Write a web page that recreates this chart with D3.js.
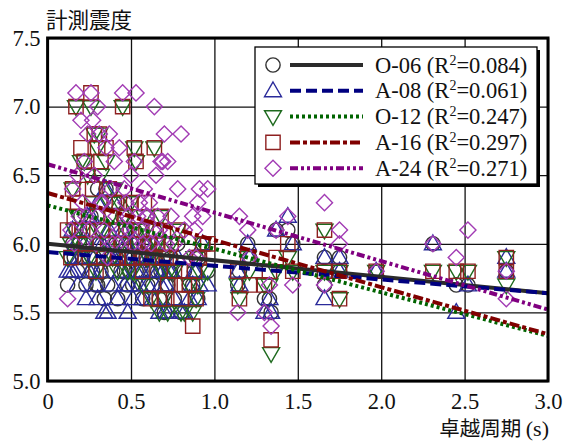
<!DOCTYPE html>
<html lang="ja">
<head>
<meta charset="utf-8">
<title>計測震度 vs 卓越周期</title>
<script src="https://d3js.org/d3.v7.min.js"></script>
<style>
  body { margin: 0; background: #fff; }
  text { font-family: "Liberation Serif", "Times New Roman", serif; }
  .cjk { font-family: "Noto Sans CJK JP", sans-serif; }
</style>
</head>
<body>
<script>
var w = 570;
var h = 441;
var plotL = 47.6, plotR = 548, plotT = 38, plotB = 381;

// dominant period of each record (s)
var periods = [
  0.12, 0.14, 0.15, 0.17, 0.18, 0.20, 0.21, 0.22, 0.23, 0.24,
  0.26, 0.27, 0.28, 0.30, 0.30, 0.31, 0.32, 0.34, 0.35, 0.36,
  0.37, 0.38, 0.40, 0.42, 0.43, 0.45, 0.46, 0.48, 0.50, 0.52,
  0.53, 0.55, 0.57, 0.58, 0.60, 0.62, 0.64, 0.65, 0.67, 0.68,
  0.69, 0.70, 0.72, 0.74, 0.78, 0.80, 0.82, 0.87, 0.88, 0.90,
  0.91, 0.93, 0.96, 1.14, 1.15, 1.20, 1.21, 1.30, 1.33, 1.34,
  1.37, 1.44, 1.47, 1.66, 1.66, 1.75, 1.75, 1.97, 2.31, 2.45,
  2.52, 2.75, 2.75,
  0.16, 0.19, 0.25, 0.29, 0.33, 0.39, 0.41, 0.44, 0.47, 0.49,
  0.51, 0.54, 0.56, 0.59, 0.61, 0.63, 0.66, 0.71, 0.73, 0.76,
  0.85, 0.89
];

// instrumental intensity for each index
var o06 = [
  5.7, 5.9, 6.0, 6.1, 5.8, 6.2, 5.9, 6.0, 5.7, 6.1,
  6.2, 5.8, 5.9, 6.4, 5.7, 6.0, 5.8, 5.6, 6.4, 5.7,
  6.0, 5.9, 6.3, 5.6, 5.9, 6.2, 5.8, 5.7, 6.0, 6.1,
  5.8, 5.9, 5.6, 6.0, 5.7, 5.8, 6.1, 5.9, 5.6, 5.8,
  5.9, 5.5, 5.7, 5.9, 6.0, 5.5, 5.8, 5.7, 5.8, 5.6,
  5.9, 6.0, 5.8, 5.7, 5.8, 6.0, 5.9, 5.6, 5.6, 5.5,
  6.1, 6.1, 6.0, 5.9, 5.7, 5.9, 5.8, 5.8, 6.0, 5.7,
  5.7, 5.8, 5.8,
  5.9, 6.0, 5.9, 5.7, 6.1, 5.8, 6.0, 5.8, 6.0, 5.8,
  5.7, 6.0, 5.8, 5.9, 6.0, 5.7, 5.8, 5.7, 5.8, 5.6,
  5.7, 5.9
];
var a08 = [
  5.8, 5.8, 6.1, 6.0, 5.7, 6.1, 5.9, 6.0, 5.6, 6.2,
  6.2, 5.8, 5.9, 6.3, 5.6, 6.0, 5.8, 5.5, 6.4, 5.5,
  6.1, 5.9, 6.3, 5.6, 5.9, 6.1, 5.7, 5.5, 5.9, 6.0,
  5.8, 5.7, 5.6, 6.0, 5.7, 5.8, 6.0, 5.9, 5.5, 5.7,
  5.8, 5.5, 5.5, 5.8, 5.9, 5.5, 5.5, 5.7, 5.8, 5.6,
  5.7, 6.0, 5.7, 5.8, 5.7, 6.0, 5.9, 5.5, 5.6, 5.5,
  6.1, 6.2, 6.0, 5.9, 5.6, 5.9, 5.8, 5.8, 6.0, 5.5,
  5.7, 5.9, 5.8,
  5.8, 5.9, 5.8, 5.7, 6.0, 5.7, 5.9, 5.8, 6.0, 5.7,
  5.6, 5.9, 5.8, 5.9, 5.9, 5.6, 5.8, 5.7, 5.8, 5.6,
  5.6, 5.8
];
var o12 = [
  5.9, 6.0, 6.4, 7.0, 6.2, 6.6, 6.1, 6.6, 6.0, 6.5,
  7.0, 6.3, 6.8, 6.7, 6.1, 6.8, 6.5, 5.9, 6.6, 6.0,
  6.3, 6.2, 6.4, 5.8, 6.3, 7.0, 6.2, 5.8, 6.3, 6.7,
  6.6, 6.1, 5.7, 6.2, 5.9, 5.6, 6.7, 6.0, 5.5, 6.2,
  5.8, 5.6, 5.5, 6.0, 6.1, 5.5, 5.5, 5.5, 5.9, 5.7,
  5.8, 6.0, 5.8, 5.7, 5.6, 5.9, 5.8, 5.7, 5.7, 5.2,
  5.8, 5.9, 5.8, 6.1, 5.8, 5.6, 5.8, 5.8, 5.8, 5.8,
  5.8, 5.9, 5.7,
  6.1, 6.0, 5.9, 5.8, 6.1, 5.9, 6.1, 6.0, 6.1, 5.9,
  5.8, 6.0, 5.9, 6.1, 6.0, 5.9, 6.0, 5.9, 5.8, 5.8,
  5.7, 5.6
];
var a16 = [
  6.1, 5.9, 6.4, 7.0, 6.3, 6.7, 6.1, 6.6, 6.0, 6.5,
  7.1, 6.4, 6.8, 6.7, 6.2, 6.8, 6.6, 5.9, 6.7, 6.0,
  6.4, 6.2, 6.3, 5.9, 6.3, 7.0, 6.2, 5.9, 6.3, 6.7,
  6.6, 6.1, 5.8, 6.3, 6.0, 5.6, 6.7, 6.1, 5.6, 6.2,
  5.9, 5.6, 5.7, 6.0, 6.1, 5.6, 5.7, 5.4, 5.8, 5.9,
  5.9, 6.0, 6.0, 5.8, 5.6, 5.9, 5.7, 5.7, 5.8, 5.3,
  5.9, 6.0, 5.8, 6.1, 5.8, 5.6, 5.8, 5.8, 5.8, 5.8,
  5.8, 5.9, 5.8,
  6.2, 6.1, 5.9, 5.8, 6.1, 5.9, 6.1, 6.0, 6.1, 5.9,
  5.9, 6.0, 5.9, 6.1, 6.0, 5.9, 6.0, 5.9, 5.9, 5.8,
  5.7, 5.6
];
var a24 = [
  5.6, 6.1, 6.4, 7.1, 6.5, 6.9, 6.3, 6.6, 6.2, 6.8,
  7.1, 6.9, 6.5, 7.0, 6.2, 6.8, 6.3, 6.1, 6.7, 5.9,
  6.8, 6.4, 6.6, 6.0, 6.7, 7.1, 6.4, 6.2, 6.5, 6.6,
  7.1, 6.3, 6.0, 6.4, 6.2, 6.0, 7.0, 6.5, 6.1, 6.6,
  6.6, 6.8, 6.6, 6.2, 6.4, 6.8, 6.1, 6.2, 6.1, 6.3,
  6.4, 6.2, 6.4, 5.5, 6.2, 6.1, 5.9, 5.5, 5.7, 5.4,
  6.1, 6.2, 5.7, 6.3, 5.7, 6.1, 6.0, 5.8, 6.0, 5.9,
  6.1, 5.8, 5.6,
  6.0, 6.2, 6.1, 6.0, 6.3, 6.0, 6.2, 6.1, 6.3, 6.1,
  6.0, 6.2, 6.1, 6.2, 6.3, 6.1, 6.2, 6.0, 6.1, 6.0,
  5.9, 5.9
];

var seriesNames = ['O-06', 'A-08', 'O-12', 'A-16', 'A-24'];
var r2Labels = ['0.084', '0.061', '0.247', '0.297', '0.271'];
// regression line: intercept and slope
var intercepts = [6.00, 5.94, 6.28, 6.37, 6.58];
var slopes = [-0.12, -0.10, -0.317, -0.343, -0.353];

var xTicks = [0, 0.5, 1.0, 1.5, 2.0, 2.5, 3.0];
var yTicks = [5.0, 5.5, 6.0, 6.5, 7.0, 7.5];

var values = [o06, a08, o12, a16, a24];
var markColors = ['#333333', '#2a2a9a', '#1e6a1e', '#8e2020', '#a23cb4'];
var lineColors = ['#2b2b2b', '#000080', '#006400', '#800000', '#800080'];
var dashes = ['none', '11,5', '3,3', '10,3,4,3', '8,3,3,3,3,3'];
var shapes = ['circle', 'up', 'down', 'square', 'diamond'];

var xScale = d3.scaleLinear().domain([0, 3]).range([plotL, plotR]);
var yScale = d3.scaleLinear().domain([5, 7.5]).range([plotB, plotT]);

var svg = d3.select('body').append('svg')
  .attr('width', w)
  .attr('height', h);

//grid
svg.append('g')
  .attr('transform', 'translate(0,' + plotB + ')')
  .call(d3.axisBottom(xScale).tickValues(xTicks).tickSize(-(plotB - plotT)).tickFormat(''))
  .call(function(g){ g.select('.domain').remove(); })
  .selectAll('line').attr('stroke', '#111').attr('stroke-width', 1.3);

svg.append('g')
  .attr('transform', 'translate(' + plotL + ',0)')
  .call(d3.axisLeft(yScale).tickValues(yTicks).tickSize(-(plotR - plotL)).tickFormat(''))
  .call(function(g){ g.select('.domain').remove(); })
  .selectAll('line').attr('stroke', '#111').attr('stroke-width', 1.3);

function symbolPath(shape) {
  if (shape === 'circle') return d3.symbol().type(d3.symbolCircle).size(160)();
  if (shape === 'up' || shape === 'down') return d3.symbol().type(d3.symbolTriangle).size(125)();
  return d3.symbol().type(d3.symbolSquare).size(shape === 'square' ? 205 : 130)();
}
function symbolTransform(shape, x, y) {
  var t = 'translate(' + x + ',' + y + ')';
  if (shape === 'down') t += ' rotate(180)';
  if (shape === 'diamond') t += ' rotate(45)';
  if (shape === 'up') t += ' translate(0,1)';
  if (shape === 'down') t += ' translate(0,1)';
  return t;
}

//points
var plot = svg.append('g');
values.forEach(function(vals, s){
  plot.append('g').selectAll('path')
    .data(periods)
    .enter()
    .append('path')
    .attr('d', symbolPath(shapes[s]))
    .attr('transform', function(d, i){
      return symbolTransform(shapes[s], xScale(d), yScale(vals[i]));
    })
    .attr('fill', 'none')
    .attr('stroke', markColors[s])
    .attr('stroke-width', 1.4);
});

//regression lines
var line = d3.line()
  .x(function(d){ return xScale(d[0]); })
  .y(function(d){ return yScale(d[1]); });
seriesNames.forEach(function(n, s){
  var pts = [0, 3].map(function(x){ return [x, intercepts[s] + slopes[s] * x]; });
  svg.append('path')
    .attr('d', line(pts))
    .attr('fill', 'none')
    .attr('stroke', lineColors[s])
    .attr('stroke-width', 4)
    .attr('stroke-dasharray', dashes[s]);
});

//frame
svg.append('rect')
  .attr('x', plotL).attr('y', plotT)
  .attr('width', plotR - plotL).attr('height', plotB - plotT)
  .attr('fill', 'none')
  .attr('stroke', '#000')
  .attr('stroke-width', 3);

//tick labels
var xAxis = svg.append('g')
  .attr('transform', 'translate(0,' + plotB + ')')
  .call(d3.axisBottom(xScale).tickValues(xTicks).tickSize(0).tickPadding(12)
    .tickFormat(function(d){ return d === 0 ? '0' : d3.format('.1f')(d); }));
xAxis.select('.domain').remove();
xAxis.selectAll('text').attr('font-size', 22.5).attr('fill', '#111')
  .style('font-family', '"Liberation Serif", serif');

var yAxis = svg.append('g')
  .attr('transform', 'translate(' + plotL + ',0)')
  .call(d3.axisLeft(yScale).tickValues(yTicks).tickSize(0).tickPadding(7)
    .tickFormat(d3.format('.1f')));
yAxis.select('.domain').remove();
yAxis.selectAll('text').attr('font-size', 22.5).attr('fill', '#111')
  .style('font-family', '"Liberation Serif", serif');

//axis titles
svg.append('text')
  .attr('class', 'cjk')
  .attr('x', 46).attr('y', 28)
  .attr('font-size', 21.5)
  .attr('fill', '#111')
  .text('計測震度');

var xt = svg.append('text')
  .attr('x', 549).attr('y', 436)
  .attr('text-anchor', 'end')
  .attr('font-size', 20.5)
  .attr('fill', '#111');
xt.append('tspan').attr('class', 'cjk').text('卓越周期 ');
xt.append('tspan').text('(s)').attr('font-size', 22);

//legend
var lg = svg.append('g');
lg.append('rect')
  .attr('x', 258).attr('y', 50).attr('width', 282).attr('height', 137)
  .attr('fill', '#000');
lg.append('rect')
  .attr('x', 255).attr('y', 47).attr('width', 282).attr('height', 137)
  .attr('fill', '#fff')
  .attr('stroke', '#000')
  .attr('stroke-width', 1.3);

seriesNames.forEach(function(n, s){
  var y = 65 + s * 25.8;
  lg.append('path')
    .attr('d', symbolPath(shapes[s]))
    .attr('transform', symbolTransform(shapes[s], 273, y))
    .attr('fill', 'none')
    .attr('stroke', markColors[s])
    .attr('stroke-width', 1.4);
  lg.append('line')
    .attr('x1', 290).attr('x2', 363)
    .attr('y1', y).attr('y2', y)
    .attr('stroke', lineColors[s])
    .attr('stroke-width', 4)
    .attr('stroke-dasharray', dashes[s]);
  var t = lg.append('text')
    .attr('x', 375).attr('y', y + 7.5)
    .attr('font-size', 22.5)
    .attr('fill', '#111');
  t.append('tspan').text(n + ' (R');
  t.append('tspan').text('2').attr('font-size', 14).attr('dy', -8);
  t.append('tspan').text('=' + r2Labels[s] + ')').attr('dy', 8);
});
</script>
</body>
</html>
